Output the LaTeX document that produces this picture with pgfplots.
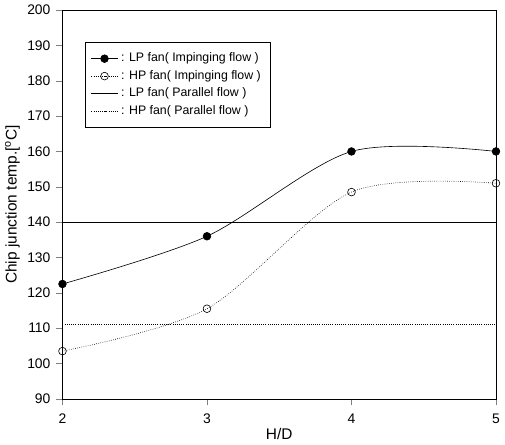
\documentclass[border=0pt]{standalone}
\usepackage{pgfplots}
\pgfplotsset{compat=1.18}
\usepackage{fontspec}
\setmainfont{Liberation Sans}
\begin{document}
\begin{tikzpicture}
\begin{axis}[
  scale only axis,
  width=281pt, height=252pt,
  xmin=2, xmax=5, ymin=90, ymax=200,
  xtick={2,3,4,5},
  ytick={90,100,...,200},
  tick align=outside,
  xtick pos=bottom, ytick pos=left,
  /pgf/number format/assume math mode=true,
  tick label style={font=\fontsize{9}{10}\selectfont},
  xticklabel style={yshift=-2pt},
  xlabel={H/D}, ylabel={Chip junction temp.[\textsuperscript{o}C]},
  label style={font=\fontsize{10}{12}\selectfont},
  xlabel style={yshift=4pt},
  ylabel style={yshift=-2pt},
  legend style={at={(0.051,0.918)}, anchor=north west, draw=black, fill=white,
    font=\fontsize{8}{9}\selectfont, row sep=0pt, inner xsep=4pt, inner ysep=5pt},
  legend cell align=left,
  clip=false,
]
\addplot[black, smooth, tension=0.5, mark=*, mark size=2.5pt, mark options={fill=black}]
  coordinates {(2,122.5)(3,136)(4,160)(5,160)};
\addlegendentry{: LP fan( Impinging flow )}
\addplot[black, smooth, tension=0.5, densely dotted, mark=o, mark size=2.5pt, mark options={solid, fill=white}]
  coordinates {(2,103.5)(3,115.5)(4,148.5)(5,151)};
\addlegendentry{: HP fan( Impinging flow )}
\addplot[black] coordinates {(2,140)(5,140)};
\addlegendentry{: LP fan( Parallel flow )}
\addplot[black, densely dotted] coordinates {(2,111)(5,111)};
\addlegendentry{: HP fan( Parallel flow )}
\end{axis}
\end{tikzpicture}
\end{document}
